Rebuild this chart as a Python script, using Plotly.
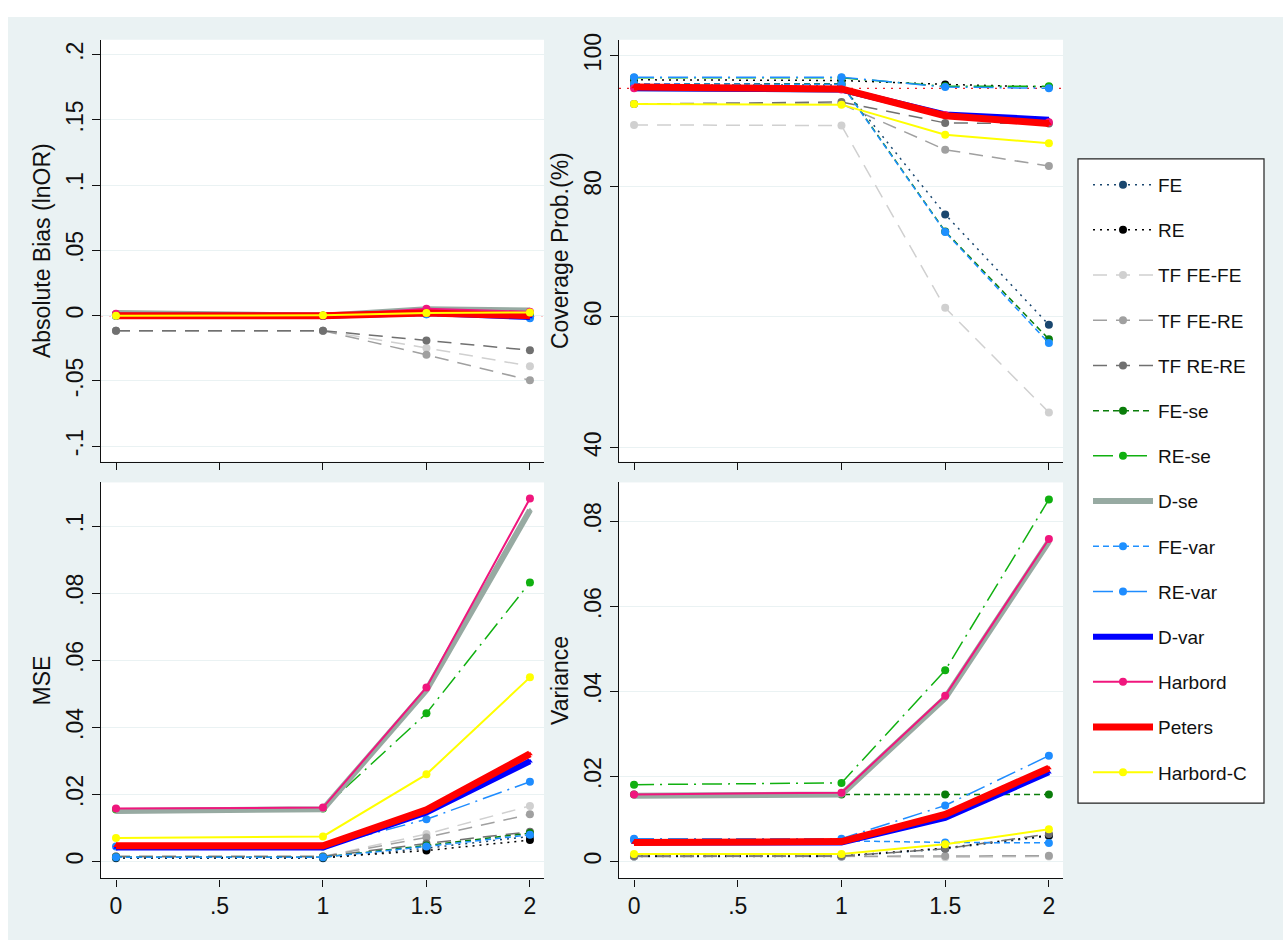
import plotly.graph_objects as go

W, H = 1283, 940

x_vals = [0, 1, 1.5, 2]

series = ["FE", "RE", "TF FE-FE", "TF FE-RE", "TF RE-RE", "FE-se", "RE-se",
          "D-se", "FE-var", "RE-var", "D-var", "Harbord", "Peters", "Harbord-C"]

bias = {
    "FE":        [0.000, 0.000, 0.002, 0.000],
    "RE":        [0.000, 0.000, 0.002, 0.000],
    "TF FE-FE":  [-0.0115, -0.0115, -0.0247, -0.0387],
    "TF FE-RE":  [-0.0115, -0.0115, -0.0300, -0.0495],
    "TF RE-RE":  [-0.0115, -0.0115, -0.0190, -0.0265],
    "FE-se":     [0.001, 0.000, 0.003, 0.001],
    "RE-se":     [0.001, 0.000, 0.004, 0.002],
    "D-se":      [0.002, 0.000, 0.005, 0.004],
    "FE-var":    [0.000, 0.000, 0.001, -0.001],
    "RE-var":    [0.000, 0.000, 0.001, -0.002],
    "D-var":     [0.000, 0.000, 0.002, -0.001],
    "Harbord":   [0.0015, 0.000, 0.0053, 0.003],
    "Peters":    [0.000, 0.000, 0.002, 0.000],
    "Harbord-C": [0.000, 0.0003, 0.002, 0.0025],
}

coverage = {
    "FE":        [95.5, 95.5, 75.7, 58.8],
    "RE":        [96.3, 96.2, 95.6, 95.2],
    "TF FE-FE":  [89.4, 89.3, 61.4, 45.4],
    "TF FE-RE":  [92.6, 92.6, 85.6, 83.1],
    "TF RE-RE":  [92.6, 92.9, 89.7, 89.6],
    "FE-se":     [95.7, 95.7, 73.1, 56.6],
    "RE-se":     [96.6, 96.6, 95.3, 95.3],
    "D-se":      [95.0, 94.8, 90.9, 89.8],
    "FE-var":    [95.7, 95.6, 73.0, 56.0],
    "RE-var":    [96.7, 96.7, 95.2, 95.0],
    "D-var":     [95.0, 94.8, 91.0, 90.2],
    "Harbord":   [95.0, 94.8, 90.9, 89.8],
    "Peters":    [95.2, 94.9, 90.8, 89.6],
    "Harbord-C": [92.6, 92.5, 87.9, 86.6],
}

mse = {
    "FE":        [0.0010, 0.0010, 0.0040, 0.0075],
    "RE":        [0.0012, 0.0012, 0.0033, 0.0064],
    "TF FE-FE":  [0.0015, 0.0015, 0.0082, 0.0166],
    "TF FE-RE":  [0.0015, 0.0015, 0.0072, 0.0141],
    "TF RE-RE":  [0.0015, 0.0015, 0.0054, 0.0089],
    "FE-se":     [0.0013, 0.0013, 0.0048, 0.0085],
    "RE-se":     [0.0155, 0.0158, 0.0442, 0.0832],
    "D-se":      [0.0151, 0.0156, 0.0511, 0.1047],
    "FE-var":    [0.0013, 0.0013, 0.0045, 0.0080],
    "RE-var":    [0.0045, 0.0045, 0.0126, 0.0238],
    "D-var":     [0.0042, 0.0042, 0.0146, 0.0299],
    "Harbord":   [0.0158, 0.0161, 0.0519, 0.1082],
    "Peters":    [0.0047, 0.0047, 0.0154, 0.0321],
    "Harbord-C": [0.0070, 0.0075, 0.0260, 0.0549],
}

variance = {
    "FE":        [0.0012, 0.0012, 0.0030, 0.0060],
    "RE":        [0.0013, 0.0013, 0.0032, 0.0062],
    "TF FE-FE":  [0.0012, 0.0012, 0.0010, 0.0012],
    "TF FE-RE":  [0.0012, 0.0012, 0.0013, 0.0014],
    "TF RE-RE":  [0.0013, 0.0013, 0.0030, 0.0065],
    "FE-se":     [0.0158, 0.0158, 0.0158, 0.0158],
    "RE-se":     [0.0181, 0.0185, 0.0450, 0.0852],
    "D-se":      [0.0155, 0.0158, 0.0385, 0.0753],
    "FE-var":    [0.0050, 0.0049, 0.0045, 0.0044],
    "RE-var":    [0.0054, 0.0054, 0.0132, 0.0249],
    "D-var":     [0.0045, 0.0045, 0.0103, 0.0210],
    "Harbord":   [0.0158, 0.0162, 0.0390, 0.0759],
    "Peters":    [0.0045, 0.0047, 0.0111, 0.0220],
    "Harbord-C": [0.0018, 0.0018, 0.0041, 0.0076],
}

x_tick_vals = [0, 0.5, 1, 1.5, 2]
x_tick_text = ["0", ".5", "1", "1.5", "2"]
bias_tick_vals = [-0.1, -0.05, 0, 0.05, 0.1, 0.15, 0.2]
bias_tick_text = ["-.1", "-.05", "0", ".05", ".1", ".15", ".2"]
cov_tick_vals = [40, 60, 80, 100]
cov_tick_text = ["40", "60", "80", "100"]
mse_tick_vals = [0, 0.02, 0.04, 0.06, 0.08, 0.1]
mse_tick_text = ["0", ".02", ".04", ".06", ".08", ".1"]
var_tick_vals = [0, 0.02, 0.04, 0.06, 0.08]
var_tick_text = ["0", ".02", ".04", ".06", ".08"]

bias_ref = 0
cov_ref = 95

LONGDASH_DOT = "20px,6px,2px,6px"
styles = {
    "FE":        dict(color="#1a476f", width=1.5, dash="2px,5px", symbol="circle", size=8),
    "RE":        dict(color="#000000", width=1.5, dash="2px,5px", symbol="circle", size=8),
    "TF FE-FE":  dict(color="#d0d0d0", width=1.5, dash="14px,9px", symbol="circle", size=8),
    "TF FE-RE":  dict(color="#a0a0a0", width=1.5, dash="14px,9px", symbol="circle", size=8),
    "TF RE-RE":  dict(color="#707070", width=1.5, dash="14px,9px", symbol="circle", size=8),
    "FE-se":     dict(color="#0a7d0a", width=1.5, dash="6px,4px", symbol="circle", size=8),
    "RE-se":     dict(color="#10b010", width=1.5, dash=LONGDASH_DOT, symbol="circle", size=8),
    "D-se":      dict(color="#97aaa2", width=6, dash="solid", symbol="triangle-up", size=5),
    "FE-var":    dict(color="#1e90ff", width=1.5, dash="6px,4px", symbol="circle", size=8),
    "RE-var":    dict(color="#1e8cff", width=1.5, dash=LONGDASH_DOT, symbol="circle", size=8),
    "D-var":     dict(color="#0000ff", width=6, dash="solid", symbol="triangle-up", size=5),
    "Harbord":   dict(color="#f0167d", width=2, dash="solid", symbol="circle", size=8),
    "Peters":    dict(color="#ff0000", width=7, dash="solid", symbol="triangle-up", size=5),
    "Harbord-C": dict(color="#ffff00", width=2, dash="solid", symbol="circle", size=8),
}

BG = "#EAF2F3"
TICK_FONT = dict(family="Liberation Sans, Arial, sans-serif", size=23, color="#111111")
TITLE_FONT = dict(family="Liberation Sans, Arial, sans-serif", size=23, color="#111111")

panels = [
    ("x", "y", bias),
    ("x2", "y2", coverage),
    ("x3", "y3", mse),
    ("x4", "y4", variance),
]

fig = go.Figure()

for pi, (xa, ya, data) in enumerate(panels):
    for name in series:
        st = styles[name]
        fig.add_trace(go.Scatter(
            x=x_vals, y=data[name], xaxis=xa, yaxis=ya,
            mode="lines+markers", name=name, legendgroup=name,
            showlegend=(pi == 0),
            line=dict(color=st["color"], width=st["width"], dash=st["dash"]),
            marker=dict(color=st["color"], symbol=st["symbol"], size=st["size"],
                        line=dict(width=0)),
        ))

# reference lines
fig.add_shape(type="line", xref="x domain", yref="y", x0=0, x1=1, y0=bias_ref, y1=bias_ref,
              line=dict(color="#e8202a", width=1.2, dash="2px,6px"), layer="below")
fig.add_shape(type="line", xref="x2 domain", yref="y2", x0=0, x1=1, y0=cov_ref, y1=cov_ref,
              line=dict(color="#e8202a", width=1.2, dash="2px,6px"), layer="below")

# white outer strips
fig.add_shape(type="rect", xref="paper", yref="paper", x0=0, x1=1, y0=1 - 10 / H, y1=1.01,
              fillcolor="white", line=dict(width=0), layer="below")
fig.add_shape(type="rect", xref="paper", yref="paper", x0=-0.01, x1=8 / W, y0=-0.01, y1=1.01,
              fillcolor="white", line=dict(width=0), layer="below")

# legend box
fig.add_shape(type="rect", xref="paper", yref="paper",
              x0=1078 / W, x1=1264 / W, y0=1 - 802 / H, y1=1 - 153 / H,
              fillcolor="white", line=dict(color="#222222", width=1.2), layer="above")

xl = [101 / W, 544 / W]
xr = [619 / W, 1063 / W]
yt = [1 - 458 / H, 1 - 33 / H]
yb = [1 - 878 / H, 1 - 479 / H]


def xaxis(domain, anchor, show_labels):
    return dict(domain=domain, anchor=anchor, range=[-0.0725, 2.068],
                tickmode="array", tickvals=x_tick_vals, ticktext=x_tick_text,
                showticklabels=show_labels, ticks="outside", ticklen=7, tickwidth=1.3,
                tickcolor="#111111", showline=True, linecolor="#111111", linewidth=1.3,
                showgrid=False, zeroline=False, tickfont=TICK_FONT, fixedrange=True)


def yaxis(domain, anchor, rng, tv, tt, title):
    return dict(domain=domain, anchor=anchor, range=rng,
                tickmode="array", tickvals=tv, ticktext=tt, tickangle=-90,
                ticks="outside", ticklen=8, tickwidth=1.3, tickcolor="#111111",
                showline=True, linecolor="#111111", linewidth=1.3,
                showgrid=True, gridcolor=BG, gridwidth=1.2, zeroline=False,
                tickfont=TICK_FONT, title=dict(text=title, font=TITLE_FONT, standoff=4),
                fixedrange=True)


fig.update_layout(
    width=W, height=H,
    margin=dict(l=0, r=0, t=0, b=0),
    paper_bgcolor=BG, plot_bgcolor="white",
    font=dict(family="Liberation Sans, Arial, sans-serif", color="#111111"),
    xaxis=xaxis(xl, "y", False),
    yaxis=yaxis(yt, "x", [-0.1118, 0.2114], bias_tick_vals, bias_tick_text, "Absolute Bias (lnOR)"),
    xaxis2=xaxis(xr, "y2", False),
    yaxis2=yaxis(yt, "x2", [37.87, 102.43], cov_tick_vals, cov_tick_text, "Coverage Prob.(%)"),
    xaxis3=xaxis(xl, "y3", True),
    yaxis3=yaxis(yb, "x3", [-0.00503, 0.1130], mse_tick_vals, mse_tick_text, "MSE"),
    xaxis4=xaxis(xr, "y4", True),
    yaxis4=yaxis(yb, "x4", [-0.00397, 0.0892], var_tick_vals, var_tick_text, "Variance"),
    legend=dict(x=1088 / W, y=1 - 160 / H, xanchor="left", yanchor="top",
                bgcolor="rgba(0,0,0,0)", borderwidth=0,
                font=dict(family="Liberation Sans, Arial, sans-serif", size=19, color="#111111"),
                traceorder="grouped", tracegroupgap=17.5, itemwidth=60,
                itemclick=False, itemdoubleclick=False),
    showlegend=True,
)

fig.write_html("out.html")
